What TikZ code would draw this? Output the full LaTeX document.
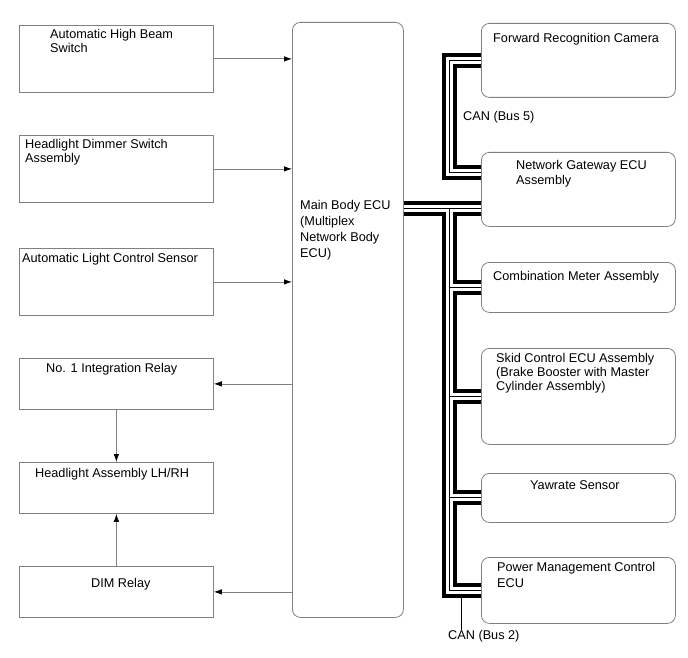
\documentclass[tikz,border=0pt]{standalone}
\usepackage{fontspec}
\setmainfont{Liberation Sans}
\usetikzlibrary{arrows.meta,positioning}
\definecolor{boxgray}{RGB}{128,128,128}

\begin{document}
\begin{tikzpicture}[
    x=1pt, y=-1pt,
    font=\fontsize{12.7}{14.5}\selectfont,
    lbox/.style={rectangle, draw=boxgray, line width=0.8pt, anchor=north west, minimum width=194pt, inner sep=0pt},
    rbox/.style={lbox, rounded corners=8pt},
    txt/.style={anchor=base west, inner sep=0pt, align=left},
    arrow/.style={-{Latex[length=8pt,width=5.5pt,color=black]}, draw=boxgray, line width=0.8pt},
]
\useasboundingbox (0,0) rectangle (688,658);

% Inputs and outputs (left)
\node[lbox, minimum height=67pt] (ahb) at (19,25) {};
\node[lbox, minimum height=67pt] (hds) at (19,135) {};
\node[lbox, minimum height=67pt] (alcs) at (19,248) {};
\node[lbox, minimum height=51pt] (no1) at (19,358) {};
\node[lbox, minimum height=51pt] (hla) at (19,462) {};
\node[lbox, minimum height=51pt] (dim) at (19,566) {};

% (base of a multi-line label = its last line)
\node[txt] (t-ahb) at (50,53) {Automatic High Beam\\Switch};
\node[txt] (t-hds) at (25,163) {Headlight Dimmer Switch\\Assembly};
\node[txt] (t-alcs) at (22,262) {Automatic Light Control Sensor};
\node[txt] (t-no1) at (46,372) {No. 1 Integration Relay};
\node[txt] (t-hla) at (35,477) {Headlight Assembly LH/RH};
\node[txt] (t-dim) at (91,587) {DIM Relay};

% Main Body ECU
\node[rbox, minimum width=111pt, minimum height=595pt] (ecu) at (292,22) {};
\node[txt, font=\fontsize{12.7}{15.7}\selectfont] (t-ecu) at (300,257) {Main Body ECU\\(Multiplex\\Network Body\\ECU)};

% CAN nodes (right)
\node[rbox, minimum height=74pt] (cam) at (481,23) {};
\node[rbox, minimum height=74pt] (gw) at (481,152) {};
\node[rbox, minimum height=50pt] (cm) at (481,262) {};
\node[rbox, minimum height=96pt] (sk) at (481,348) {};
\node[rbox, minimum height=49pt] (yr) at (481,473) {};
\node[rbox, minimum height=66pt] (pm) at (481,557) {};

\node[txt] (t-cam) at (493,43) {Forward Recognition Camera};
\node[txt, font=\fontsize{12.7}{15}\selectfont] (t-gw) at (516,184) {Network Gateway ECU\\Assembly};
\node[txt] (t-cm) at (493,280) {Combination Meter Assembly};
\node[txt, font=\fontsize{12.7}{14}\selectfont] (t-sk) at (496,390) {Skid Control ECU Assembly\\(Brake Booster with Master\\Cylinder Assembly)};
\node[txt] (t-yr) at (530,489) {Yawrate Sensor};
\node[txt, font=\fontsize{12.7}{16}\selectfont] (t-pm) at (497,587) {Power Management Control\\ECU};

% Signal lines
\draw[arrow] (ahb.east) -- (ahb.east -| ecu.west);
\draw[arrow] (hds.east) -- (hds.east -| ecu.west);
\draw[arrow] (alcs.east) -- (alcs.east -| ecu.west);
\draw[arrow] (no1.east -| ecu.west) -- (no1.east);
\draw[arrow] (dim.east -| ecu.west) -- (dim.east);
\draw[arrow] (no1.south) -- (hla.north);
\draw[arrow] (dim.north) -- (hla.south);

% CAN buses
\coordinate (bus) at (449,208);
\coordinate (b5lo) at (449,172);
\coordinate (b5hi) at (449,61);
\foreach \lw/\lc in {15pt/black, 7pt/white, 1pt/black} {
    \draw[line width=\lw, \lc] (bus -| ecu.east) -- (bus -| gw.west);
    \draw[line width=\lw, \lc] (bus) -- (bus |- pm.west) -- (pm.west);
    \draw[line width=\lw, \lc] (bus |- cm.west) -- (cm.west);
    \draw[line width=\lw, \lc] (bus |- sk.west) -- (sk.west);
    \draw[line width=\lw, \lc] (bus |- yr.west) -- (yr.west);
    \draw[line width=\lw, \lc] (b5lo -| gw.west) -- (b5lo) -- (b5hi) -- (b5hi -| cam.west);
}

\node[txt] (can5) at (463,121) {CAN (Bus 5)};
\node[txt] (can2) at (448,639) {CAN (Bus 2)};
\coordinate (lead2) at (461,597);
\draw[line width=0.8pt] (lead2) -- (lead2 |- can2.north);

\end{tikzpicture}
\end{document}
